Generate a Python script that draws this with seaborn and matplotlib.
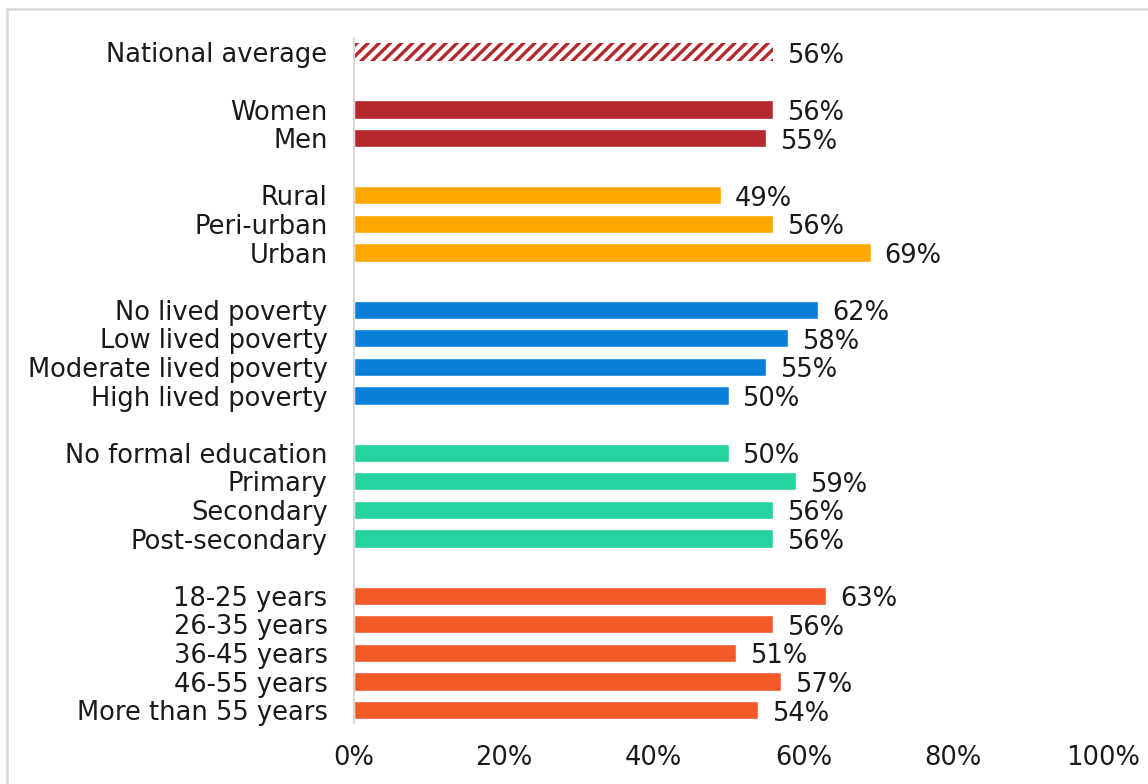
import matplotlib
matplotlib.use("Agg")
import matplotlib.pyplot as plt
from matplotlib.lines import Line2D
import seaborn as sns
import pandas as pd

# Share of respondents, by group
national_labels = ["National average"]
national_values = [56]

gender_labels = ["Women", "Men"]
gender_values = [56, 55]

location_labels = ["Rural", "Peri-urban", "Urban"]
location_values = [49, 56, 69]

poverty_labels = ["No lived poverty", "Low lived poverty",
                  "Moderate lived poverty", "High lived poverty"]
poverty_values = [62, 58, 55, 50]

education_labels = ["No formal education", "Primary", "Secondary", "Post-secondary"]
education_values = [50, 59, 56, 56]

age_labels = ["18-25 years", "26-35 years", "36-45 years", "46-55 years",
              "More than 55 years"]
age_values = [63, 56, 51, 57, 54]

x_ticks = [0, 20, 40, 60, 80, 100]
x_tick_labels = ["0%", "20%", "40%", "60%", "80%", "100%"]

groups = [
    ("national", national_labels, national_values, "#B5282E"),
    ("gender", gender_labels, gender_values, "#B5282E"),
    ("location", location_labels, location_values, "#FFA800"),
    ("poverty", poverty_labels, poverty_values, "#0A7FD8"),
    ("education", education_labels, education_values, "#24D3A0"),
    ("age", age_labels, age_values, "#F35A2A"),
]

rows = []
order = []
palette = {}
for i, (name, labels, values, color) in enumerate(groups):
    if i > 0:
        order.append(" " * i)  # blank spacer row between groups
    for lab, val in zip(labels, values):
        rows.append({"label": lab, "value": val, "group": name})
        order.append(lab)
    palette[name] = color
df = pd.DataFrame(rows)

sns.set_theme(style="white")
plt.rcParams["font.family"] = ["DejaVu Sans"]
plt.rcParams["hatch.linewidth"] = 2.4
text_color = "#1A1A1A"
fs = 18.5

fig = plt.figure(figsize=(11.48, 7.84), dpi=100)
ax = fig.add_axes([354 / 1148, 1 - 723 / 784, 749 / 1148, 685 / 784])

sns.barplot(data=df, x="value", y="label", hue="group", order=order,
            palette=palette, dodge=False, legend=False, width=0.64,
            orient="h", saturation=1, ax=ax)

# National average bar: hatched stripes on white
nat_pos = order.index("National average")
for p in ax.patches:
    cy = p.get_y() + p.get_height() / 2
    if abs(cy - nat_pos) < 0.1 and p.get_width() > 0:
        p.set_facecolor("white")
        p.set_edgecolor("#B5282E")
        p.set_hatch("///")
        if hasattr(p, "set_hatch_linewidth"):
            p.set_hatch_linewidth(2.4)
        p.set_linewidth(0)

# Value labels
for _, r in df.iterrows():
    ax.annotate(f"{r['value']:.0f}%", xy=(r["value"], order.index(r["label"])),
                xytext=(10, -2.5), textcoords="offset points",
                ha="left", va="center", fontsize=fs, color=text_color)

ax.set_xlim(0, 100)
ax.set_ylim(len(order) - 0.55, -0.5)
ax.set_xticks(x_ticks)
ax.set_xticklabels(x_tick_labels)
ax.set_xlabel("")
ax.set_ylabel("")
ax.tick_params(axis="both", length=0, labelsize=fs, colors=text_color)
ax.tick_params(axis="y", pad=19)
ax.tick_params(axis="x", pad=16)
ax.grid(False)
for side in ["top", "right", "bottom"]:
    ax.spines[side].set_visible(False)
ax.spines["left"].set_color("#D9D9D9")
ax.spines["left"].set_linewidth(1.5)

# Light frame around the chart area
fig.add_artist(Line2D([7 / 1148, 1.0], [1 - 9 / 784, 1 - 9 / 784],
                      transform=fig.transFigure, color="#D9D9D9", lw=1.8))
fig.add_artist(Line2D([7 / 1148, 7 / 1148], [0.0, 1 - 9 / 784],
                      transform=fig.transFigure, color="#D9D9D9", lw=1.8))

fig.savefig("out.png", dpi=100, facecolor="white")
